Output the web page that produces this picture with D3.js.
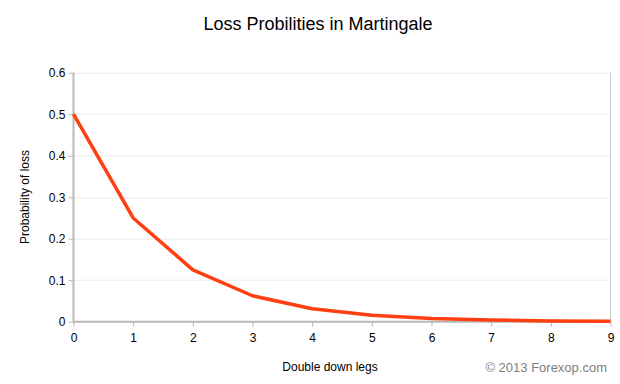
<!DOCTYPE html>
<html>
<head>
<meta charset="utf-8">
<script src="https://cdn.jsdelivr.net/npm/d3@7"></script>
<style>
  body { margin: 0; background: #fff; }
  text { font-family: "Liberation Sans", Arial, sans-serif; }
</style>
</head>
<body>
<div id="chart"></div>
<script>
const legs = [0, 1, 2, 3, 4, 5, 6, 7, 8, 9];
const lossProb = [0.5, 0.25, 0.125, 0.0625, 0.03125, 0.015625, 0.0078125, 0.00390625, 0.001953125, 0.0009765625];
const yTicks = [0, 0.1, 0.2, 0.3, 0.4, 0.5, 0.6];

const width = 620, height = 384;
const margin = {top: 72.7, right: 9.5, bottom: 62.3, left: 73.5};
const innerW = width - margin.left - margin.right;
const innerH = height - margin.top - margin.bottom;

const svg = d3.select('#chart').append('svg')
  .attr('width', width)
  .attr('height', height);

const plot = svg.append('g')
  .attr('transform', `translate(${margin.left}, ${margin.top})`);

const x = d3.scaleLinear().domain([0, 9]).range([0, innerW]);
const y = d3.scaleLinear().domain([0, 0.6]).range([innerH, 0]);

// gridlines
plot.append('g')
  .selectAll('line')
  .data(yTicks.filter(d => d > 0))
  .join('line')
    .attr('x1', 0)
    .attr('x2', innerW)
    .attr('y1', d => Math.round(y(d)) + 0.5)
    .attr('y2', d => Math.round(y(d)) + 0.5)
    .attr('stroke', '#ebebeb');

// right border
plot.append('line')
  .attr('x1', innerW).attr('x2', innerW)
  .attr('y1', 0).attr('y2', innerH)
  .attr('stroke', '#cccccc');

// y axis
const yAxis = d3.axisLeft(y)
  .tickValues(yTicks)
  .tickFormat(d => d === 0 ? '0' : d3.format('.1f')(d))
  .tickSize(5)
  .tickPadding(3);
const yg = plot.append('g').call(yAxis);
yg.select('.domain').attr('stroke', '#b8b8b8').attr('stroke-width', 2).attr('d', `M0,0V${innerH}`);
yg.selectAll('.tick line').attr('stroke', '#b8b8b8');
yg.selectAll('.tick text').attr('fill', '#000').style('font-size', '12px')
  .style('font-family', '"Liberation Sans", Arial, sans-serif');

// x axis
const xAxis = d3.axisBottom(x)
  .tickValues(legs)
  .tickFormat(d3.format('d'))
  .tickSize(5)
  .tickPadding(7);
const xg = plot.append('g')
  .attr('transform', `translate(0, ${innerH})`)
  .call(xAxis);
xg.select('.domain').attr('stroke', '#b8b8b8').attr('stroke-width', 2).attr('d', `M0,0H${innerW}`);
xg.selectAll('.tick line').attr('stroke', '#b8b8b8');
xg.selectAll('.tick text').attr('fill', '#000').style('font-size', '12px')
  .style('font-family', '"Liberation Sans", Arial, sans-serif');

// line
const line = d3.line()
  .x((d, i) => x(legs[i]))
  .y(d => y(d));
plot.append('path')
  .datum(lossProb)
  .attr('fill', 'none')
  .attr('stroke', '#ff3f0f')
  .attr('stroke-width', 3.5)
  .attr('stroke-linejoin', 'round')
  .attr('d', line);

// title
svg.append('text')
  .attr('x', 318)
  .attr('y', 30)
  .attr('text-anchor', 'middle')
  .style('font-size', '18px')
  .text('Loss Probilities in Martingale');

// axis labels
svg.append('text')
  .attr('x', 330)
  .attr('y', 371)
  .attr('text-anchor', 'middle')
  .style('font-size', '12px')
  .text('Double down legs');

svg.append('text')
  .attr('transform', 'translate(29, 197) rotate(-90)')
  .attr('text-anchor', 'middle')
  .style('font-size', '12px')
  .text('Probability of loss');

svg.append('text')
  .attr('x', 607)
  .attr('y', 372)
  .attr('text-anchor', 'end')
  .attr('fill', '#808080')
  .style('font-size', '13px')
  .text('© 2013 Forexop.com');
</script>
</body>
</html>
